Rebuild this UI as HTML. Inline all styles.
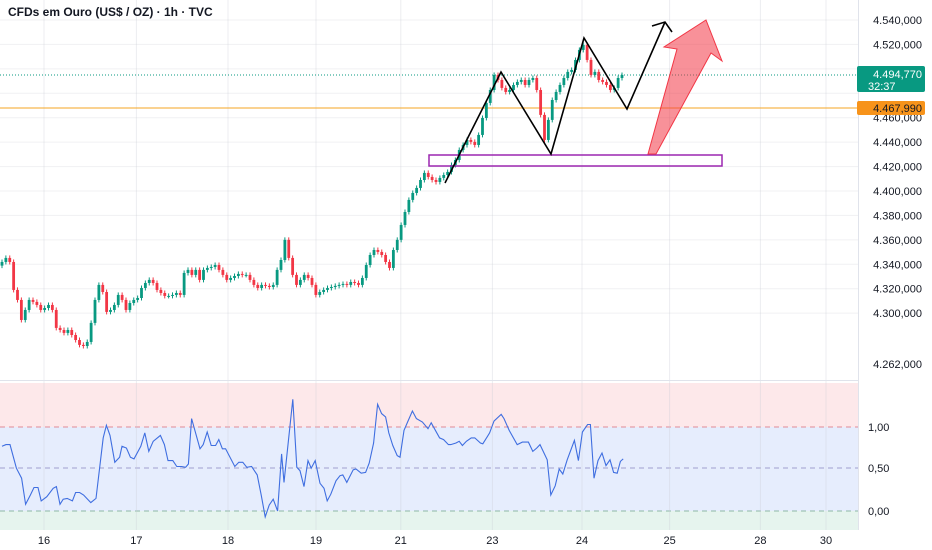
<!DOCTYPE html>
<html><head><meta charset="utf-8"><style>
html,body{margin:0;padding:0;background:#fff;}
svg{display:block;font-family:"Liberation Sans",sans-serif;}
</style></head><body>
<svg id="chart" width="932" height="550" viewBox="0 0 932 550">
<rect x="0" y="0" width="932" height="550" fill="#ffffff"/>
<g id="grid"></g>
<g id="osc-bands">
<rect x="0" y="383" width="858" height="44" fill="#fde8ea"/>
<rect x="0" y="427" width="858" height="84" fill="#e6edfd"/>
<rect x="0" y="511" width="858" height="19" fill="#e6f4ee"/>
<line x1="0" x2="858" y1="427" y2="427" stroke="#e08a96" stroke-dasharray="5,4"/>
<line x1="0" x2="858" y1="468" y2="468" stroke="#a0a0d0" stroke-dasharray="5,4"/>
<line x1="0" x2="858" y1="511" y2="511" stroke="#8fb8a6" stroke-dasharray="5,4"/>
</g>
<g id="xgrid"></g>
<line x1="0" x2="858" y1="75" y2="75" stroke="#089981" stroke-dasharray="1,2"/>
<line x1="0" x2="858" y1="108" y2="108" stroke="#f5a623" stroke-width="1"/>
<g id="candles"></g>
<path id="osc" fill="none" stroke="#3f6ee0" stroke-width="1.1"/>
<rect x="429" y="155" width="293" height="11" fill="none" stroke="#9c27b0" stroke-width="1.5"/>
<polyline points="445,183 501,72 551,154 584,38 627,109 665,22" fill="none" stroke="#000" stroke-width="1.6"/>
<polyline points="652,26 665,22 672,32" fill="none" stroke="#000" stroke-width="1.6"/>
<polygon points="648,154 677,49 664,47 706,20 722,61 711,53 656,154" fill="rgba(242,54,69,0.55)" stroke="#f23645" stroke-width="1"/>
<text x="8" y="16" font-size="12" font-weight="bold" fill="#131722">CFDs em Ouro (US$ / OZ) · 1h · TVC</text>
<g id="yaxis" font-size="11" fill="#131722" text-anchor="end"></g>
<g id="xaxis" font-size="11" fill="#131722" text-anchor="middle"></g>
<g font-size="11" fill="#131722">
<text x="868" y="431">1,00</text>
<text x="868" y="472">0,50</text>
<text x="868" y="515">0,00</text>
</g>
<rect x="857" y="66" width="68" height="26" rx="2" fill="#089981"/>
<text x="922" y="78" font-size="11" fill="#fff" text-anchor="end">4.494,770</text>
<text x="868" y="90" font-size="11" fill="#fff">32:37</text>
<rect x="857" y="101" width="68" height="14" rx="2" fill="#f7931a"/>
<text x="922" y="112" font-size="11" fill="#131722" text-anchor="end">4.467,990</text>
</svg>
<script>
const closes=[4341.9,4345.2,4341.9,4319.0,4310.8,4294.4,4302.6,4310.8,4309.2,4306.7,4302.6,4304.2,4306.7,4302.6,4287.9,4286.2,4283.8,4286.2,4282.1,4278.0,4274.0,4273.1,4276.4,4292.0,4310.8,4323.1,4317.3,4301.0,4302.6,4306.7,4314.9,4310.8,4302.6,4308.3,4310.8,4312.4,4320.6,4324.7,4327.2,4324.7,4319.0,4316.5,4314.1,4314.1,4314.9,4316.5,4314.9,4332.9,4335.4,4331.3,4335.4,4327.2,4335.4,4337.0,4337.8,4339.4,4335.4,4331.3,4327.2,4328.8,4330.4,4332.1,4331.3,4331.3,4327.2,4323.1,4320.6,4323.1,4322.3,4321.4,4323.1,4335.4,4343.5,4360.0,4345.2,4331.3,4323.1,4327.2,4331.3,4328.8,4323.1,4314.9,4317.3,4319.0,4320.6,4321.4,4322.3,4323.1,4323.9,4323.1,4325.5,4324.7,4323.1,4328.8,4339.4,4347.6,4351.7,4350.1,4347.6,4341.9,4337.0,4351.7,4360.0,4372.2,4382.8,4392.7,4398.4,4402.5,4409.0,4414.8,4411.5,4409.0,4407.4,4410.7,4413.1,4415.6,4421.3,4425.4,4433.6,4437.7,4441.8,4440.2,4437.7,4445.9,4459.8,4472.1,4482.7,4495.0,4490.9,4484.4,4481.1,4482.7,4486.8,4489.3,4490.9,4486.8,4490.9,4492.5,4482.7,4462.3,4441.8,4458.2,4474.5,4481.1,4486.8,4492.5,4497.5,4499.1,4507.3,4515.5,4519.6,4507.3,4495.0,4497.5,4490.9,4489.3,4486.8,4482.7,4484.4,4492.5,4495.0];
const oscT=[0,1.0,2.0,3.6,4.9,5.9,7.1,8.0,9.0,9.8,11.2,12.8,13.6,14.5,15.3,16.3,17.6,18.4,19.4,20.4,22.2,23.5,25.3,26.1,27.0,28.2,29.4,30.0,31.1,32.1,33.0,34.7,35.7,36.7,37.8,39.6,40.6,41.5,42.7,43.7,44.9,45.9,46.6,47.4,49.5,50.3,51.3,52.3,53.4,54.2,55.1,55.9,58.2,59.2,60.2,61.2,62.4,63.8,64.8,65.8,66.8,67.8,68.9,69.9,70.5,72.7,73.7,74.5,75.5,76.5,77.3,78.3,79.5,80.5,81.3,82.2,83.5,84.5,85.2,86.2,87.8,88.5,89.8,90.9,91.8,92.9,93.9,94.9,95.9,96.7,97.7,98.8,99.5,100.5,101.4,102.6,103.6,105.1,106.5,107.3,109.4,110.4,111.6,112.2,113.5,114.3,115.1,116.1,117.3,118.2,119.6,120.2,121.4,121.9,123.0,124.8,125.5,126.8,128.8,130.1,131.6,132.7,133.7,134.5,136.3,137.2,138.3,139.3,140.2,141.3,143.1,144.1,145.1,146.4,147.1,148.0,149.0,150.0,151.0,152.0,152.9,153.8,154.6,155.3];
const oscV=[0.77,0.79,0.79,0.51,0.39,0.08,0.19,0.28,0.28,0.12,0.17,0.27,0.29,0.08,0.14,0.15,0.12,0.22,0.22,0.19,0.10,0.15,0.87,1.02,0.90,0.58,0.64,0.77,0.75,0.64,0.62,0.77,0.93,0.71,0.83,0.90,0.79,0.60,0.60,0.53,0.53,0.52,0.56,1.10,0.74,0.79,0.94,0.78,0.78,0.85,0.74,0.74,0.53,0.58,0.58,0.52,0.53,0.43,0.19,-0.07,0.07,0.14,0.00,0.68,0.34,1.33,0.52,0.48,0.29,0.60,0.51,0.60,0.33,0.27,0.12,0.20,0.36,0.42,0.43,0.34,0.49,0.50,0.45,0.46,0.57,0.81,1.27,1.16,1.12,0.93,0.78,0.66,0.64,0.96,1.06,1.19,1.10,1.06,0.98,1.05,0.87,0.85,0.79,0.79,0.81,0.83,0.78,0.83,0.87,0.87,0.81,0.80,0.89,0.93,1.07,1.15,1.10,0.96,0.79,0.82,0.82,0.71,0.75,0.79,0.61,0.19,0.30,0.50,0.44,0.61,0.84,0.60,0.94,1.03,1.03,0.39,0.60,0.69,0.54,0.61,0.46,0.45,0.59,0.62];
const priceTicks=[4540,4520,4500,4480,4460,4440,4420,4400,4380,4360,4340,4320,4300];
const priceTickLabels=["4.540,000","4.520,000","4.500,000","4.480,000","4.460,000","4.440,000","4.420,000","4.400,000","4.380,000","4.360,000","4.340,000","4.320,000","4.300,000"];
const dayLabels=["16","17","18","19","21","23","24","25","28","30"];
const dayPos=[10.5,33.6,56.5,78.5,99.7,122.6,145,166.9,189.6,206];

const NS="http://www.w3.org/2000/svg";
const step=620/(closes.length-1);
function xS(t){return 2+t*step;}
function xT(t){return 2+t*4.0;}
function yS(p){return 20+(4540-p)*1.2214;}
function oS(v){return 511-v*84;}
function mk(tag,attrs,parent){const e=document.createElementNS(NS,tag);for(const k in attrs)e.setAttribute(k,attrs[k]);parent.appendChild(e);return e;}

const grid=document.getElementById('grid'),yaxis=document.getElementById('yaxis');
priceTicks.forEach((p,i)=>{
  const l=mk('line',{x1:0,x2:858,y1:yS(p),y2:yS(p),stroke:'#f0f1f3'},grid);
  
  
  if(p===4500||p===4480)return;
  const t=mk('text',{x:922,y:yS(p)+4},yaxis);t.textContent=priceTickLabels[i];
  
  
});
const lt=mk('text',{x:922,y:368},yaxis);lt.textContent="4.262,000";



const xg=document.getElementById('xgrid'),xa=document.getElementById('xaxis');
dayLabels.forEach((d,i)=>{
  const x=xT(dayPos[i]);
  const l=mk('line',{x1:x,x2:x,y1:0,y2:530,stroke:'rgba(200,204,212,0.35)'},xg);
  
  
  const t=mk('text',{x:x,y:544},xa);t.textContent=d;
  
  
});
mk('line',{x1:0,x2:858,y1:380.5,y2:380.5,stroke:'#e0e3eb'},xg);
mk('line',{x1:858.5,x2:858.5,y1:0,y2:530,stroke:'#e0e3eb'},xg);

const cg=document.getElementById('candles');
closes.forEach((c,i)=>{
  const o=i===0?c-3:closes[i-1];
  const up=c>=o, col=up?'#089981':'#f23645', x=xS(i);
  const top=yS(Math.max(o,c)), bot=yS(Math.min(o,c));
  const w=mk('line',{x1:x,x2:x,y1:top-2.5,y2:bot+2.5,stroke:col,'stroke-width':1},cg);
  
  
  const b=mk('rect',{x:x-1.4,y:top,width:2.8,height:Math.max(1,bot-top),fill:col},cg);
  
  
});

document.getElementById('osc').setAttribute('d',oscT.map((t,i)=>(i?'L':'M')+xT(t).toFixed(1)+','+oS(oscV[i]).toFixed(1)).join(''));
</script>
</body></html>
